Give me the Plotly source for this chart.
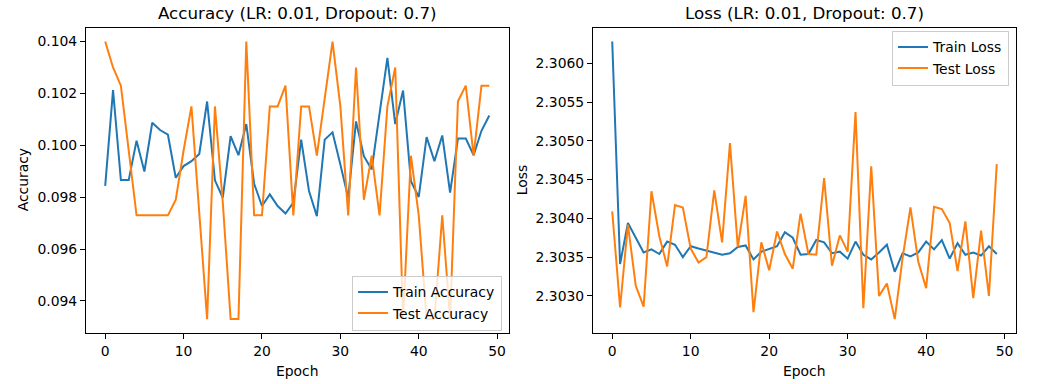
import plotly.graph_objects as go

epochs = list(range(50))

train_acc = [0.09844, 0.10213, 0.09866, 0.09866, 0.10018, 0.09899, 0.10087, 0.10059, 0.10041, 0.09875,
             0.09920, 0.09939, 0.09967, 0.10169, 0.09865, 0.09798, 0.10035, 0.09962, 0.10082, 0.09852,
             0.09766, 0.09811, 0.09766, 0.09737, 0.09779, 0.10022, 0.09824, 0.09727, 0.10022, 0.10050,
             0.09926, 0.09798, 0.10092, 0.09958, 0.09907, 0.10130, 0.10337, 0.10082, 0.10211, 0.09862,
             0.09801, 0.10032, 0.09939, 0.10038, 0.09818, 0.10026, 0.10026, 0.09962, 0.10056, 0.10115]

test_acc = [0.1040, 0.1030, 0.1023, 0.0998, 0.0973, 0.0973, 0.0973, 0.0973, 0.0973, 0.0979,
            0.0998, 0.1015, 0.0973, 0.0933, 0.1015, 0.0978, 0.0933, 0.0933, 0.1040, 0.0973,
            0.0973, 0.1015, 0.1015, 0.1023, 0.0973, 0.1015, 0.1015, 0.0996, 0.1018, 0.1040,
            0.1015, 0.0973, 0.1030, 0.0979, 0.0996, 0.0973, 0.1015, 0.1030, 0.0933, 0.0996,
            0.0973, 0.0933, 0.0933, 0.0973, 0.0933, 0.1017, 0.1023, 0.0996, 0.1023, 0.1023]

train_loss = [2.30628, 2.30341, 2.30394, 2.30375, 2.30356, 2.30360, 2.30354, 2.30370, 2.30366, 2.30350,
              2.30364, 2.30361, 2.30358, 2.30356, 2.30353, 2.30355, 2.30363, 2.30365, 2.30347, 2.30357,
              2.30361, 2.30364, 2.30382, 2.30375, 2.30353, 2.30354, 2.30372, 2.30369, 2.30355, 2.30357,
              2.30348, 2.30370, 2.30353, 2.30347, 2.30356, 2.30366, 2.30331, 2.30355, 2.30351, 2.30356,
              2.30370, 2.30360, 2.30372, 2.30348, 2.30368, 2.30353, 2.30356, 2.30352, 2.30364, 2.30354]

test_loss = [2.30409, 2.30285, 2.30392, 2.30313, 2.30286, 2.30435, 2.30377, 2.30338, 2.30417, 2.30414,
             2.30361, 2.30343, 2.30350, 2.30436, 2.30369, 2.30497, 2.30363, 2.30429, 2.30279, 2.30369,
             2.30333, 2.30383, 2.30354, 2.30335, 2.30406, 2.30354, 2.30353, 2.30452, 2.30339, 2.30378,
             2.30357, 2.30537, 2.30284, 2.30467, 2.30300, 2.30316, 2.30270, 2.30349, 2.30414, 2.30344,
             2.30310, 2.30415, 2.30412, 2.30394, 2.30332, 2.30396, 2.30297, 2.30384, 2.30300, 2.30470]

acc_ticks = [0.094, 0.096, 0.098, 0.100, 0.102, 0.104]
loss_ticks = [2.3030, 2.3035, 2.3040, 2.3045, 2.3050, 2.3055, 2.3060]
x_ticks = [0, 10, 20, 30, 40, 50]

title_acc = "Accuracy (LR: 0.01, Dropout: 0.7)"
title_loss = "Loss (LR: 0.01, Dropout: 0.7)"

BLUE = "#1f77b4"
ORANGE = "#ff7f0e"
FONT = "DejaVu Sans"
W, H = 1054, 384


def pad_range(vals_list, frac=0.05):
    lo = min(min(v) for v in vals_list)
    hi = max(max(v) for v in vals_list)
    m = (hi - lo) * frac
    return [lo - m, hi + m]


xr = pad_range([epochs])

fig = go.Figure()
fig.add_trace(go.Scatter(x=epochs, y=train_acc, mode="lines", name="Train Accuracy",
                         line=dict(color=BLUE, width=2), xaxis="x", yaxis="y", legend="legend"))
fig.add_trace(go.Scatter(x=epochs, y=test_acc, mode="lines", name="Test Accuracy",
                         line=dict(color=ORANGE, width=2), xaxis="x", yaxis="y", legend="legend"))
fig.add_trace(go.Scatter(x=epochs, y=train_loss, mode="lines", name="Train Loss",
                         line=dict(color=BLUE, width=2), xaxis="x2", yaxis="y2", legend="legend2"))
fig.add_trace(go.Scatter(x=epochs, y=test_loss, mode="lines", name="Test Loss",
                         line=dict(color=ORANGE, width=2), xaxis="x2", yaxis="y2", legend="legend2"))

dl = [86 / W, 508.5 / W]
dr = [593 / W, 1016 / W]
ytop = 1 - 27.7 / H
ybot = 1 - 333 / H
dy = [ybot, ytop]

axis_common = dict(showline=True, mirror=True, linecolor="black", linewidth=1.1,
                   ticks="outside", ticklen=5, tickwidth=1.1, tickcolor="black",
                   showgrid=False, zeroline=False,
                   tickfont=dict(family=FONT, size=13.9, color="black"))

fig.update_layout(
    width=W, height=H,
    margin=dict(l=0, r=0, t=0, b=0),
    paper_bgcolor="white", plot_bgcolor="white",
    font=dict(family=FONT, size=13.9, color="black"),
    xaxis=dict(domain=dl, range=xr, tickvals=x_ticks, anchor="y", **axis_common),
    yaxis=dict(domain=dy, range=pad_range([train_acc, test_acc]), tickvals=acc_ticks,
               tickformat=".3f", anchor="x", **axis_common),
    xaxis2=dict(domain=dr, range=xr, tickvals=x_ticks, anchor="y2", **axis_common),
    yaxis2=dict(domain=dy, range=pad_range([train_loss, test_loss]), tickvals=loss_ticks,
                tickformat=".4f", anchor="x2", **axis_common),
    legend=dict(x=502 / W, xanchor="right", y=1 - 330.5 / H, yanchor="bottom",
                bgcolor="rgba(255,255,255,0.8)", bordercolor="#cccccc", borderwidth=1,
                font=dict(family=FONT, size=13.9, color="black")),
    legend2=dict(x=1009 / W, xanchor="right", y=1 - 30.5 / H, yanchor="top",
                 bgcolor="rgba(255,255,255,0.8)", bordercolor="#cccccc", borderwidth=1,
                 font=dict(family=FONT, size=13.9, color="black")),
)

cx_l = (dl[0] + dl[1]) / 2
cx_r = (dr[0] + dr[1]) / 2
cy = (dy[0] + dy[1]) / 2
ann = [
    dict(text=title_acc, x=cx_l, y=1 - 13 / H, font=dict(size=16.7)),
    dict(text=title_loss, x=cx_r, y=1 - 13 / H, font=dict(size=16.7)),
    dict(text="Epoch", x=cx_l, y=1 - 371 / H, font=dict(size=13.9)),
    dict(text="Epoch", x=cx_r, y=1 - 371 / H, font=dict(size=13.9)),
    dict(text="Accuracy", x=23 / W, y=cy, textangle=-90, font=dict(size=13.9)),
    dict(text="Loss", x=522 / W, y=cy, textangle=-90, font=dict(size=13.9)),
]
for a in ann:
    fig.add_annotation(xref="paper", yref="paper", showarrow=False,
                       xanchor="center", yanchor="middle",
                       font=dict(family=FONT, color="black", size=a["font"]["size"]),
                       text=a["text"], x=a["x"], y=a["y"], textangle=a.get("textangle", 0))

fig.write_html("out.html", config={"displayModeBar": False},
               post_script="document.body.style.margin='0';document.body.style.overflow='hidden';")
